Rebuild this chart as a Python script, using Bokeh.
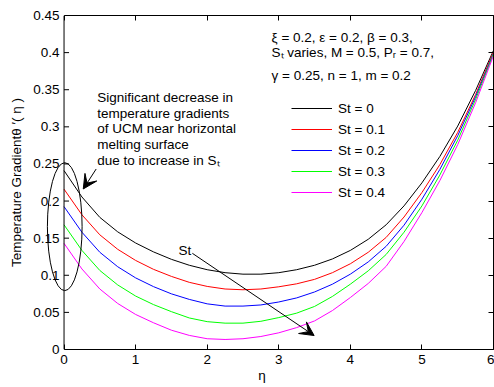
import math
from bokeh.plotting import figure
from bokeh.models import (LinearAxis, FixedTicker, CustomJSTickFormatter, Legend, LegendItem,
                          Label, Arrow, VeeHead, Range1d, Span)
from bokeh.embed import file_html
from bokeh.resources import INLINE

# ---------------- data ----------------
eta = [0, 0.25, 0.5, 0.75, 1.0, 1.25, 1.5, 1.75, 2.0, 2.25, 2.5, 2.75, 3.0,
       3.25, 3.5, 3.75, 4.0, 4.25, 4.5, 4.75, 5.0, 5.25, 5.5, 5.75, 6.0]

st_0 = [0.2410, 0.2055, 0.1780, 0.1585, 0.1435, 0.1315, 0.1215, 0.1135, 0.1075, 0.1035, 0.1015, 0.1015, 0.1035,
        0.1075, 0.1135, 0.1220, 0.1335, 0.1485, 0.1680, 0.1935, 0.2245, 0.2600, 0.3010, 0.3490, 0.4030]
st_1 = [0.2160, 0.1815, 0.1545, 0.1350, 0.1200, 0.1080, 0.0985, 0.0905, 0.0850, 0.0815, 0.0805, 0.0815, 0.0845,
        0.0885, 0.0945, 0.1035, 0.1155, 0.1310, 0.1510, 0.1785, 0.2115, 0.2490, 0.2925, 0.3435, 0.4010]
st_2 = [0.1925, 0.1580, 0.1310, 0.1115, 0.0965, 0.0847, 0.0750, 0.0675, 0.0615, 0.0585, 0.0585, 0.0600, 0.0640,
        0.0695, 0.0775, 0.0880, 0.1015, 0.1180, 0.1390, 0.1675, 0.2025, 0.2425, 0.2880, 0.3405, 0.3990]
st_3 = [0.1680, 0.1335, 0.1065, 0.0870, 0.0720, 0.0605, 0.0510, 0.0425, 0.0375, 0.0355, 0.0355, 0.0380, 0.0430,
        0.0490, 0.0580, 0.0715, 0.0880, 0.1060, 0.1280, 0.1580, 0.1935, 0.2350, 0.2820, 0.3370, 0.3980]
st_4 = [0.1430, 0.1085, 0.0815, 0.0620, 0.0472, 0.0360, 0.0260, 0.0190, 0.0145, 0.0135, 0.0145, 0.0175, 0.0225,
        0.0295, 0.0385, 0.0525, 0.0700, 0.0890, 0.1120, 0.1455, 0.1845, 0.2275, 0.2760, 0.3325, 0.3960]

series = [st_0, st_1, st_2, st_3, st_4]
series_labels = ["St = 0", "St = 0.1", "St = 0.2", "St = 0.3", "St = 0.4"]

x_ticks = [0, 1, 2, 3, 4, 5, 6]
y_ticks = [0, 0.05, 0.1, 0.15, 0.2, 0.25, 0.3, 0.35, 0.4, 0.45]

x_title = "η"
y_title = "Temperature Gradientθ ′( η )"

params_lines = ["ξ = 0.2, ε = 0.2, β = 0.3,",
                "Sₜ varies, M = 0.5, Pᵣ = 0.7,",
                "γ = 0.25, n = 1, m = 0.2"]
note_lines = ["Significant decrease in",
              " temperature gradients",
              "of UCM near horizontal",
              "melting surface",
              "due to increase in Sₜ"]
st_text = "St"

# ---------------- positions / styles ----------------
colors = ["black", "#ff0000", "#0000ff", "#00ff00", "#ff00ff"]
FONT = "Liberation Sans"
FS = "13.5px"

X_MIN, X_MAX = 0, 6
params_x = 2.90
params_y = [0.4204, 0.4002, 0.3688]
note_x = 0.464
note_y = [0.3396, 0.3186, 0.2975, 0.2764, 0.2553]
st_pos = (1.60, 0.1333)
arrow_note = (0.449, 0.2432, 0.2685, 0.2163)
arrow_st = (1.793, 0.1296, 3.494, 0.0188)
ell_center = (0.01, 0.1655)
ell_size = (0.485, 0.1724)
tick_len = 0.07  # inward tick length on the left axis, in x units (~5 px)

# the frame reaches left of eta=0 so that the ellipse is not clipped
p = figure(width=494, height=387, output_backend="svg", toolbar_location=None,
           x_range=Range1d(-0.4685, X_MAX), y_range=Range1d(0, 0.45),
           min_border_left=30, min_border_right=1, min_border_top=15, min_border_bottom=38,
           x_axis_label=x_title, y_axis_label=y_title)
p.grid.visible = False
p.outline_line_color = None
p.background_fill_color = "white"
p.border_fill_color = "white"

fmt = CustomJSTickFormatter(code="return String(Number(tick.toFixed(2)));")


def style_axis(ax):
    ax.major_tick_in = 5
    ax.major_tick_out = 0
    ax.minor_tick_in = 0
    ax.minor_tick_out = 0
    ax.axis_line_color = "black"
    ax.major_tick_line_color = "black"
    ax.major_label_text_font = FONT
    ax.major_label_text_font_size = FS
    ax.major_label_text_color = "black"
    ax.axis_label_text_font = FONT
    ax.axis_label_text_font_size = FS
    ax.axis_label_text_font_style = "normal"
    ax.axis_label_text_color = "black"


def hide_labels(ax):
    ax.major_label_text_font_size = "0px"
    ax.major_label_text_color = None
    ax.major_label_standoff = 0


xax = p.xaxis[0]
xax.ticker = FixedTicker(ticks=x_ticks)
xax.formatter = fmt
style_axis(xax)
xax.bounds = (X_MIN, X_MAX)
xax.major_label_standoff = 5
xax.axis_label_standoff = 1

# left axis sits at the frame edge; its labels are pulled in to end just left of eta = 0
yax = p.yaxis[0]
style_axis(yax)
yax.ticker = FixedTicker(ticks=y_ticks)
yax.formatter = fmt
yax.axis_line_color = None
yax.major_tick_in = 0
yax.major_tick_line_color = None
yax.major_label_standoff = -29
yax.axis_label_standoff = 6

top_ax = LinearAxis(ticker=FixedTicker(ticks=x_ticks), bounds=(X_MIN, X_MAX))
right_ax = LinearAxis(ticker=FixedTicker(ticks=y_ticks))
for ax in (top_ax, right_ax):
    style_axis(ax)
    hide_labels(ax)
p.add_layout(top_ax, "above")
p.add_layout(right_ax, "right")

# y axis line and inward ticks at eta = 0
p.add_layout(Span(location=X_MIN, dimension="height", line_color="black", line_width=1))
p.segment(x0=[X_MIN] * len(y_ticks), y0=y_ticks, x1=[X_MIN + tick_len] * len(y_ticks), y1=y_ticks,
          line_color="black", line_width=1)

items = []
for ys, c, lab in zip(series, colors, series_labels):
    r = p.line(eta, ys, line_color=c, line_width=1)
    items.append(LegendItem(label=lab, renderers=[r]))

legend = Legend(items=items, location=(261, 149), padding=0, margin=0, spacing=5,
                glyph_width=41, glyph_height=16, label_height=16, label_standoff=6,
                border_line_alpha=0, background_fill_alpha=0,
                label_text_font=FONT, label_text_font_size=FS, label_text_color="black")
p.add_layout(legend)

# ellipse around the curves' start
p.ellipse(x=[ell_center[0]], y=[ell_center[1]], width=[ell_size[0]], height=[ell_size[1]],
          fill_alpha=0, line_color="black", line_width=1)

for txt, yy in zip(params_lines, params_y):
    p.add_layout(Label(x=params_x, y=yy, text=txt, text_font=FONT, text_font_size=FS,
                       text_baseline="alphabetic", text_align="left", text_color="black"))
for txt, yy in zip(note_lines, note_y):
    p.add_layout(Label(x=note_x, y=yy, text=txt, text_font=FONT, text_font_size=FS,
                       text_baseline="alphabetic", text_align="left", text_color="black"))
p.add_layout(Label(x=st_pos[0], y=st_pos[1], text=st_text, text_font=FONT, text_font_size=FS,
                   text_baseline="alphabetic", text_align="left", text_color="black"))

for (x0, y0, x1, y1) in (arrow_note, arrow_st):
    p.add_layout(Arrow(x_start=x0, y_start=y0, x_end=x1, y_end=y1, line_color="black", line_width=1,
                       end=VeeHead(size=14, fill_color="black", line_color="black")))

open("out.html", "w").write(file_html(p, INLINE))
